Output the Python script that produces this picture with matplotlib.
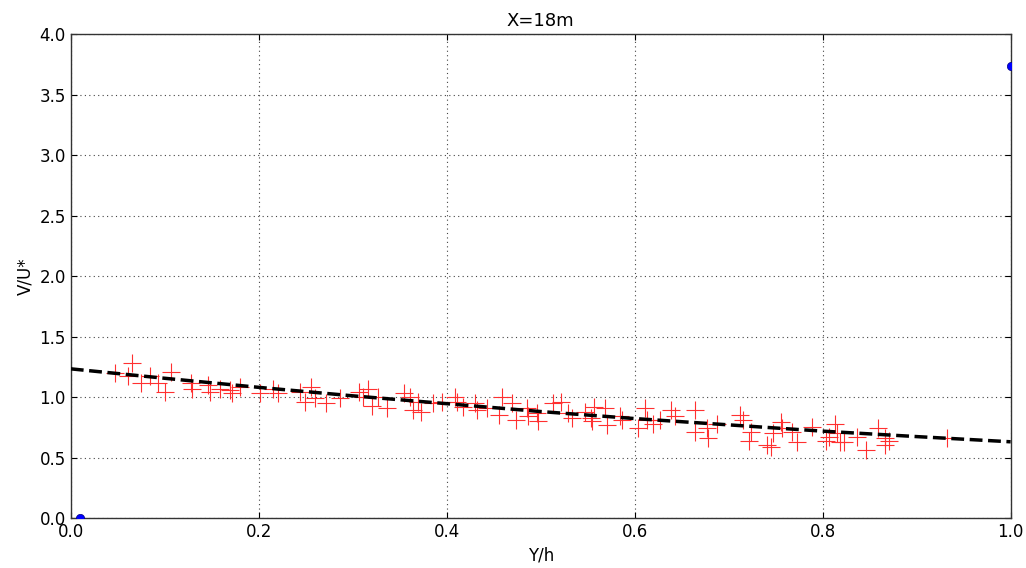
import numpy as np
import matplotlib
matplotlib.use('Agg')
import matplotlib.pyplot as plt

# mesures (Y/h, V/U*)
yh = [0.047, 0.065, 0.061, 0.075, 0.084, 0.093, 0.100, 0.107, 0.128, 0.129,
      0.146, 0.148, 0.159, 0.169, 0.172, 0.180, 0.201, 0.215, 0.220, 0.244,
      0.249, 0.256, 0.260, 0.272, 0.286, 0.307, 0.316, 0.311, 0.320, 0.327,
      0.336, 0.355, 0.361, 0.364, 0.369, 0.373, 0.385, 0.395, 0.409, 0.411,
      0.417, 0.430, 0.432, 0.443, 0.459, 0.456, 0.469, 0.474, 0.485, 0.486,
      0.496, 0.497, 0.513, 0.522, 0.529, 0.533, 0.547, 0.554, 0.557, 0.555,
      0.568, 0.571, 0.584, 0.587, 0.603, 0.611, 0.613, 0.619, 0.627, 0.639,
      0.643, 0.664, 0.664, 0.677, 0.678, 0.688, 0.712, 0.715, 0.722, 0.741,
      0.724, 0.745, 0.747, 0.756, 0.757, 0.767, 0.773, 0.789, 0.804, 0.807,
      0.813, 0.815, 0.818, 0.823, 0.837, 0.846, 0.859, 0.866, 0.866, 0.871,
      0.932]
vu = [1.20, 1.28, 1.17, 1.12, 1.17, 1.12, 1.04, 1.21, 1.12, 1.07,
      1.10, 1.04, 1.07, 1.06, 1.03, 1.08, 1.03, 1.07, 1.03, 1.04,
      0.96, 1.08, 0.99, 0.95, 0.99, 1.04, 1.07, 1.00, 0.93, 1.00,
      0.91, 1.03, 1.00, 0.89, 0.96, 0.88, 0.95, 0.96, 1.00, 0.96,
      0.92, 0.95, 0.89, 0.91, 1.00, 0.85, 0.95, 0.81, 0.91, 0.84,
      0.87, 0.80, 0.95, 0.96, 0.87, 0.83, 0.88, 0.83, 0.92, 0.80,
      0.91, 0.77, 0.84, 0.81, 0.74, 0.91, 0.81, 0.78, 0.81, 0.89,
      0.84, 0.89, 0.71, 0.74, 0.66, 0.78, 0.85, 0.81, 0.64, 0.60,
      0.71, 0.59, 0.70, 0.79, 0.74, 0.71, 0.63, 0.75, 0.64, 0.67,
      0.78, 0.70, 0.63, 0.63, 0.67, 0.56, 0.74, 0.66, 0.60, 0.64,
      0.66]

# courbe d'ajustement
fit_x = [0.0, 0.1, 0.2, 0.3, 0.4, 0.5, 0.6, 0.7, 0.8, 0.9, 1.0]
fit_y = [1.233, 1.155, 1.08, 1.01, 0.945, 0.88, 0.822, 0.77, 0.718, 0.673, 0.63]

# points limites
bx = [0.01, 1.0]
by = [0.0, 3.74]

plt.rcParams.update({'font.family': 'DejaVu Sans', 'font.size': 12,
                     'xtick.direction': 'in', 'ytick.direction': 'in',
                     'xtick.top': True, 'ytick.right': True,
                     'xtick.major.size': 4, 'ytick.major.size': 4})

fig = plt.figure(figsize=(10.26, 5.68), dpi=100)
ax = fig.add_axes([0.069, 0.088, 0.916, 0.852])

ax.plot(yh, vu, '+', color='#ff3030', ms=13, mew=0.8, zorder=2)
ax.plot(fit_x, fit_y, '--', color='k', lw=2.5, zorder=3)
ax.plot(bx, by, 'o', color='b', ms=6, mec='#000080', mew=0.5, zorder=4)

ax.set_xlim(0, 1); ax.set_ylim(0, 4)
ax.set_xticks(np.arange(0, 1.01, 0.2))
ax.set_yticks(np.arange(0, 4.01, 0.5))
ax.grid(True, color='#444444', linestyle=(0, (1, 3)), lw=0.8)
for sp in ax.spines.values():
    sp.set_color('#333333'); sp.set_linewidth(1.0)

ax.set_title('X=18m', fontsize=13)
ax.set_xlabel('Y/h', fontsize=12)
ax.set_ylabel('V/U*', fontsize=12)

fig.savefig('out.png', dpi=100)
